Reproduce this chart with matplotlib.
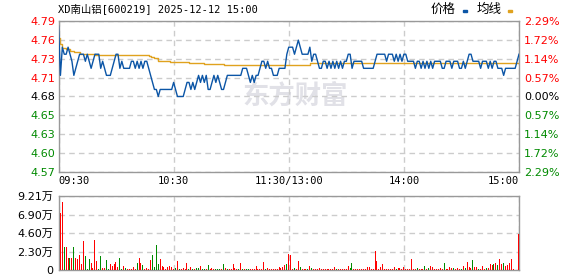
import matplotlib
matplotlib.use("Agg")
import matplotlib.pyplot as plt
from matplotlib.patches import Rectangle

# ---- data ----
title = "XD南山铝[600219] 2025-12-12 15:00"
prev_close = 4.68

# minute price, 09:30 .. 15:00 (241 points, lunch break removed)
price = [
    4.78, 4.71, 4.75, 4.74, 4.74, 4.75, 4.74, 4.73, 4.71, 4.72,
    4.73, 4.74, 4.74, 4.74, 4.73, 4.74, 4.73, 4.72, 4.73, 4.74,
    4.74, 4.74, 4.72, 4.73, 4.72, 4.71, 4.71, 4.71, 4.72, 4.73,
    4.74, 4.74, 4.72, 4.73, 4.72, 4.72, 4.72, 4.72, 4.73, 4.73,
    4.72, 4.73, 4.72, 4.73, 4.72, 4.73, 4.73, 4.72, 4.71, 4.70,
    4.69, 4.69, 4.68, 4.69, 4.69, 4.69, 4.69, 4.69, 4.69, 4.69,
    4.70, 4.69, 4.68, 4.68, 4.68, 4.68, 4.69, 4.70, 4.70, 4.69,
    4.70, 4.69, 4.70, 4.71, 4.70, 4.71, 4.70, 4.71, 4.69, 4.69,
    4.70, 4.71, 4.70, 4.71, 4.70, 4.69, 4.69, 4.70, 4.71, 4.71,
    4.71, 4.71, 4.71, 4.71, 4.71, 4.71, 4.72, 4.72, 4.72, 4.71,
    4.70, 4.71, 4.70, 4.71, 4.71, 4.72, 4.73, 4.73, 4.72, 4.73,
    4.72, 4.72, 4.71, 4.71, 4.71, 4.72, 4.72, 4.72, 4.72, 4.74,
    4.75, 4.75, 4.75, 4.74, 4.75, 4.76, 4.75, 4.74, 4.74, 4.74,
    4.74, 4.75, 4.73, 4.74, 4.74, 4.73, 4.72, 4.72, 4.73, 4.73,
    4.72, 4.73, 4.72, 4.73, 4.72, 4.73, 4.72, 4.73, 4.72, 4.73,
    4.73, 4.74, 4.74, 4.72, 4.73, 4.73, 4.73, 4.73, 4.73, 4.72,
    4.72, 4.72, 4.72, 4.72, 4.72, 4.73, 4.74, 4.74, 4.74, 4.74,
    4.74, 4.73, 4.74, 4.74, 4.74, 4.73, 4.74, 4.73, 4.74, 4.73,
    4.74, 4.74, 4.73, 4.73, 4.73, 4.73, 4.72, 4.73, 4.73, 4.72,
    4.73, 4.72, 4.73, 4.72, 4.73, 4.72, 4.73, 4.73, 4.73, 4.73,
    4.72, 4.72, 4.73, 4.73, 4.73, 4.72, 4.73, 4.73, 4.73, 4.72,
    4.72, 4.73, 4.72, 4.73, 4.74, 4.74, 4.73, 4.73, 4.73, 4.73,
    4.72, 4.73, 4.73, 4.73, 4.72, 4.73, 4.72, 4.73, 4.73, 4.72,
    4.72, 4.72, 4.71, 4.72, 4.72, 4.72, 4.72, 4.72, 4.72, 4.73,
    4.74,
]

# average price line, step breakpoints (minute, price)
avg_t = [0, 1, 2, 4, 6, 8, 11, 15, 19, 47, 48, 50, 52, 58, 68, 76, 86, 131, 240]
avg_v = [4.763, 4.755, 4.749, 4.747, 4.745, 4.743, 4.741, 4.740, 4.739, 4.738,
         4.736, 4.734, 4.731, 4.729, 4.728, 4.726, 4.725, 4.727, 4.727]

# minute volume in 万 (minutes 1..240) and bar colour r/g
volume = [
    7.05, 8.46, 2.86, 2.86, 1.45, 1.45, 1.45, 2.86, 1.45, 1.33,
    1.87, 0.75, 3.61, 1.74, 0.12, 1.37, 0.91, 0.21, 3.73, 1.08,
    0.12, 1.74, 0.25, 0.25, 1.24, 0.12, 0.75, 0.50, 0.75, 1.00,
    0.37, 1.49, 0.12, 0.50, 0.25, 0.12, 0.12, 0.12, 0.37, 0.12,
    0.87, 1.49, 0.87, 0.62, 0.12, 0.25, 0.12, 1.24, 1.87, 0.37,
    3.11, 0.75, 1.37, 0.50, 0.37, 0.12, 0.37, 0.50, 0.37, 0.12,
    0.25, 1.08, 0.12, 0.12, 0.25, 0.12, 0.87, 0.12, 0.37, 0.12,
    0.12, 0.25, 0.25, 0.50, 0.12, 0.12, 0.12, 0.62, 0.12, 0.25,
    0.12, 0.12, 0.12, 0.12, 0.12, 0.75, 0.25, 0.12, 0.12, 0.12,
    0.75, 0.25, 0.12, 0.12, 0.87, 0.12, 0.12, 0.12, 0.12, 0.12,
    0.12, 0.12, 0.50, 0.12, 0.12, 0.12, 1.00, 0.12, 0.25, 0.12,
    0.12, 0.12, 0.12, 0.12, 0.37, 0.25, 0.37, 0.62, 0.75, 1.99,
    1.87, 0.12, 0.25, 0.12, 1.08, 0.37, 0.12, 0.12, 0.12, 0.12,
    0.50, 0.25, 0.12, 0.12, 0.12, 0.25, 0.12, 0.12, 0.12, 0.12,
    0.12, 0.12, 0.12, 0.37, 0.12, 0.12, 0.12, 0.12, 0.12, 0.12,
    0.50, 0.25, 0.87, 0.12, 0.12, 0.12, 0.12, 0.12, 0.12, 0.12,
    0.37, 0.37, 0.12, 0.12, 2.39, 1.08, 0.12, 0.37, 0.75, 0.12,
    0.12, 0.12, 0.12, 0.12, 0.37, 0.12, 0.25, 0.25, 0.12, 0.37,
    0.12, 0.12, 0.12, 1.41, 0.12, 0.12, 0.25, 0.12, 0.12, 0.12,
    0.50, 0.12, 0.25, 0.50, 0.37, 0.12, 0.12, 0.12, 0.25, 0.12,
    0.87, 0.12, 0.12, 0.37, 0.25, 0.25, 0.12, 0.25, 0.12, 0.12,
    0.50, 0.25, 1.00, 0.37, 0.25, 1.24, 0.37, 0.37, 0.12, 0.12,
    0.50, 0.12, 0.25, 0.25, 0.75, 0.62, 0.75, 0.87, 0.62, 1.37,
    0.75, 0.87, 0.50, 0.62, 0.87, 1.37, 0.12, 0.00, 0.00, 4.47,
]
vol_dir = ("rrgrrgrgrr" "rrrgggrrrr" "ggrrggrrrr" "rggrgrrrrr"
           "grrgrrrrgg" "ggrrrrrrrr" "grgrrrrgrg" "rggrggrgrr"
           "rgggrgrgrr" "rrrgrgrggr" "rrrrrrrgrr" "rrrrrrrrgr"
           "rrgrrgrrrg" "rgrrrrrrrr" "rrrrgrrrrr" "rggrrrrrrr"
           "rrrrrrrrrr" "rrrrrgrrrr" "rrrrrrgrrr" "grgrrrrrrr"
           "grrrrgrrrg" "rgrrrgrrgr" "rrgrrrgrgr" "rgrrrrrrrr")

pct_steps = [-4, -3, -2, -1, 0, 1, 2, 3, 4]
pct_labels = ["2.29%", "1.72%", "1.14%", "0.57%", "0.00%",
              "0.57%", "1.14%", "1.72%", "2.29%"]
time_ticks = [0, 60, 120, 180, 240]
time_labels = ["09:30", "10:30", "11:30/13:00", "14:00", "15:00"]
vol_ticks = [0, 2.30, 4.60, 6.90, 9.21]
vol_labels = ["0", "2.30万", "4.60万", "6.90万", "9.21万"]

RED = "#ff0000"
GREEN = "#008a00"
BLUE = "#0b55a6"
GOLD = "#e0a21e"
FRAME = "#999999"
GRID = "#cccccc"
W, H = 578, 276

fig = plt.figure(figsize=(W / 100, H / 100), dpi=100)
fig.patch.set_facecolor("white")


def box(x0, y0, x1, y1):
    return [x0 / W, 1 - y1 / H, (x1 - x0) / W, (y1 - y0) / H]


ax = fig.add_axes(box(58.5, 21, 519, 172))
axv = fig.add_axes(box(58.5, 196, 519, 270))

step = 2.29 / 4 / 100
lo = prev_close * (1 - 4 * step)
hi = prev_close * (1 + 4 * step)
levels = [prev_close * (1 + k * step) for k in pct_steps]
level_cols = [GREEN if k < 0 else (RED if k > 0 else "black") for k in pct_steps]

for a in (ax, axv):
    for s in a.spines.values():
        s.set_color(FRAME)
        s.set_linewidth(1.0)
    a.grid(True, color=GRID, linestyle=(0, (4, 3)), linewidth=1.0)
    a.set_xlim(0, 240)
    a.tick_params(length=0)

# watermark
ax.text(0.515, 0.50, "东方财富", transform=ax.transAxes, ha="center", va="center",
        fontsize=19, fontweight="bold", color="#e1e1e7", style="italic",
        family=["Noto Sans CJK SC"], zorder=0)

minutes = list(range(len(price)))
ax.plot(minutes, price, color=BLUE, lw=1.0, zorder=3)
ax.plot(avg_t, avg_v, color=GOLD, lw=1.0, drawstyle="steps-post", zorder=2)
ax.set_ylim(lo, hi)
ax.set_yticks(levels)
ax.set_yticklabels(["%.2f" % v for v in levels], family="DejaVu Sans", fontsize=8)
for lab, c in zip(ax.get_yticklabels(), level_cols):
    lab.set_color(c)
ax.tick_params(axis="y", pad=2.5)
ax.set_xticks(time_ticks)
ax.set_xticklabels(time_labels, family="DejaVu Sans Mono", fontsize=7.5)
ax.tick_params(axis="x", pad=3)
xl = ax.get_xticklabels()
xl[0].set_ha("left")
xl[-1].set_ha("right")

ax2 = ax.twinx()
ax2.set_ylim(lo, hi)
ax2.set_yticks(levels)
ax2.set_yticklabels(pct_labels, family="DejaVu Sans", fontsize=8)
for lab, c in zip(ax2.get_yticklabels(), level_cols):
    lab.set_color(c)
ax2.tick_params(length=0, pad=3.5)
for s in ax2.spines.values():
    s.set_visible(False)

# volume: one thin crisp bar per minute
vt = [i + 1 - 0.3 for i in range(len(volume))]
vcol = [RED if d == "r" else GREEN for d in vol_dir]
axv.vlines(vt, 0, volume, colors=vcol, linewidth=0.72, antialiased=False, zorder=3)
axv.set_ylim(0, 9.21)
axv.set_yticks(vol_ticks)
axv.set_yticklabels(vol_labels, family=["DejaVu Sans", "Noto Sans CJK SC"], fontsize=8)
axv.tick_params(axis="y", pad=4)
axv.set_xticks(time_ticks)
axv.set_xticklabels([])

# title and legend
fig.text(58 / W, 1 - 9 / H, title, ha="left", va="center", fontsize=7.5,
         family=["DejaVu Sans Mono", "Noto Sans CJK SC"])
fig.text(431 / W, 1 - 9 / H, "价格", ha="left", va="center", fontsize=9,
         family=["Noto Sans CJK SC"])
fig.text(477 / W, 1 - 9 / H, "均线", ha="left", va="center", fontsize=9,
         family=["Noto Sans CJK SC"])
fig.patches.append(Rectangle((463 / W, 1 - 12 / H), 4 / W, 2 / H,
                             transform=fig.transFigure, color=BLUE))
fig.patches.append(Rectangle((508 / W, 1 - 12 / H), 4 / W, 2 / H,
                             transform=fig.transFigure, color=GOLD))

fig.savefig("out.png", dpi=100)
